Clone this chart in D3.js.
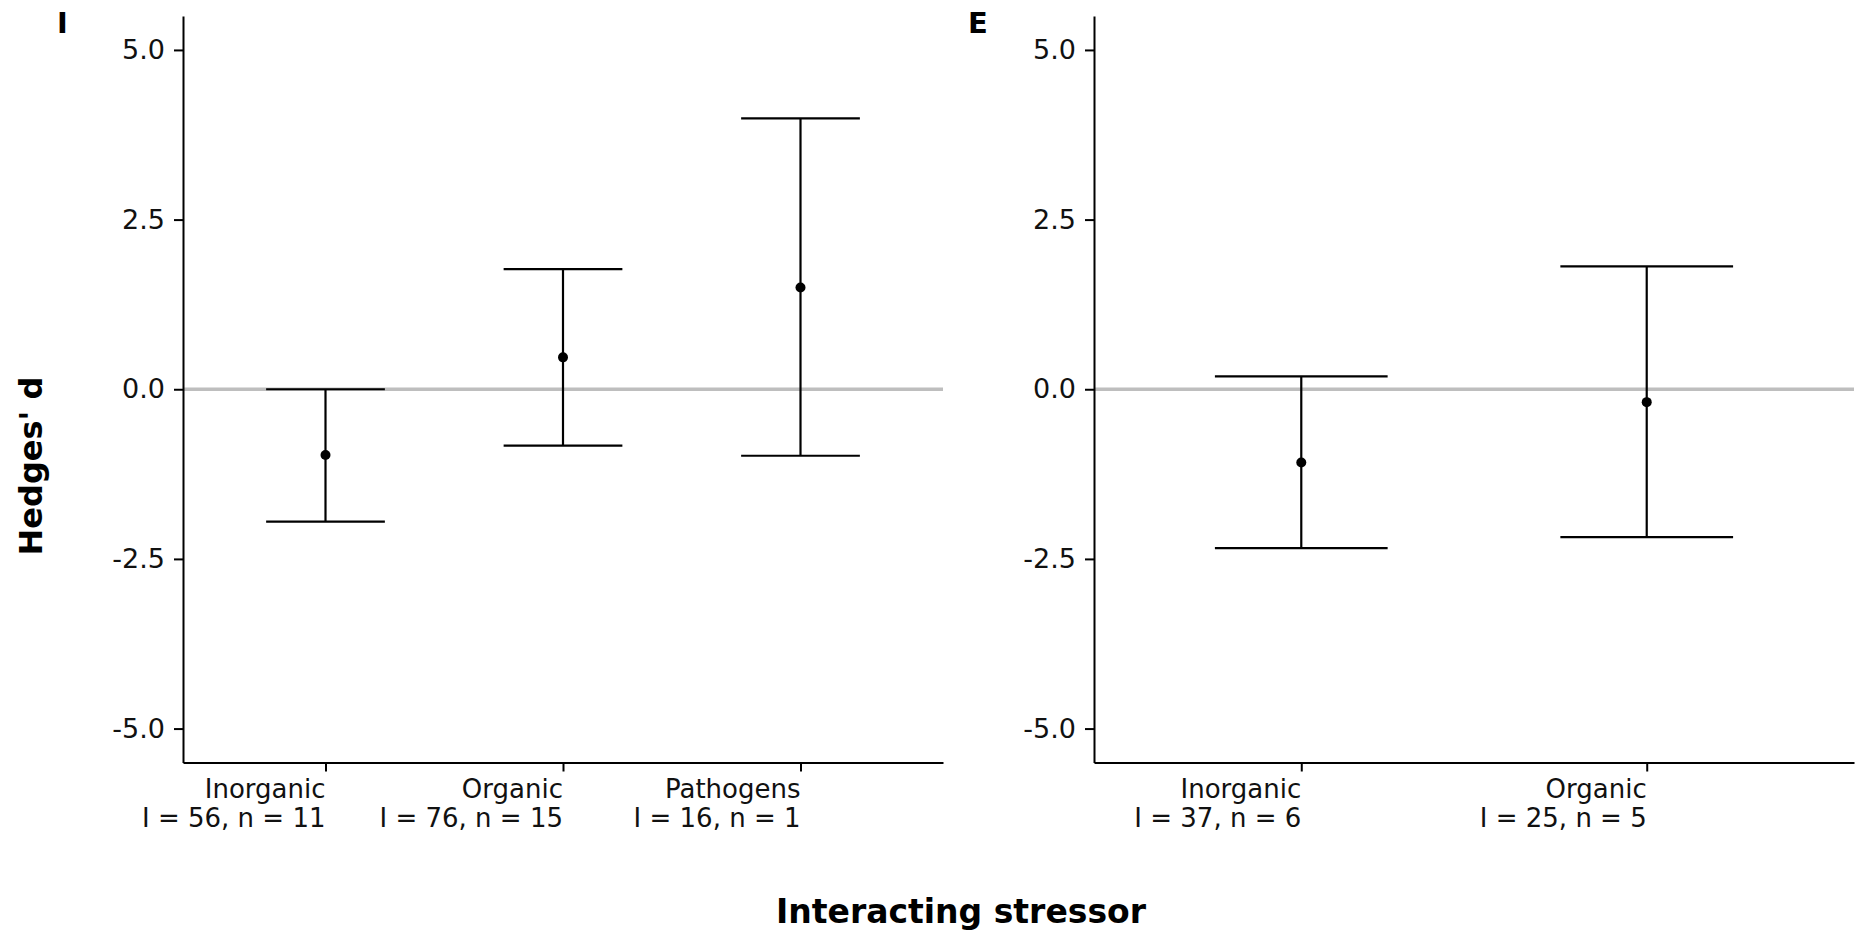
<!DOCTYPE html>
<html>
<head>
<meta charset="utf-8">
<script src="https://cdn.jsdelivr.net/npm/d3@7"></script>
<style>
  body { margin: 0; background: #fff; }
  svg { display: block; font-family: "DejaVu Sans", sans-serif; }
</style>
</head>
<body>
<svg id="chart" width="1856" height="931"></svg>
<script>
// Panel I (left)
const catsI = ["Inorganic", "Organic", "Pathogens"];
const countsI = ["I = 56, n = 11", "I = 76, n = 15", "I = 16, n = 1"];
const estI = [-0.97, 0.47, 1.50];
const lowI = [-1.95, -0.83, -0.98];
const highI = [0.00, 1.77, 3.99];

// Panel E (right)
const catsE = ["Inorganic", "Organic"];
const countsE = ["I = 37, n = 6", "I = 25, n = 5"];
const estE = [-1.08, -0.19];
const lowE = [-2.34, -2.18];
const highE = [0.19, 1.81];

const yTicks = [-5, -2.5, 0, 2.5, 5];

const svg = d3.select("#chart");
const plotTop = 16, plotBottom = 762.5, panelW = 760;

const y = d3.scaleLinear().domain([-5.5, 5.5]).range([plotBottom, plotTop]);

const drawPanel = (tag, left, cats, counts, est, low, high) => {
    const n = cats.length;
    const x = d3.scaleLinear().domain([0.4, n + 0.6]).range([left, left + panelW]);
    const g = svg.append("g");

    // zero reference line
    g.append("line")
        .attr("x1", left).attr("x2", left + panelW)
        .attr("y1", y(0)).attr("y2", y(0))
        .attr("stroke", "#bebebe").attr("stroke-width", 3.5);

    // y axis
    const ya = g.append("g")
        .attr("transform", `translate(${left},0)`)
        .call(d3.axisLeft(y).tickValues(yTicks).tickFormat(d => d.toFixed(1))
            .tickSize(9).tickSizeOuter(0).tickPadding(9));
    ya.select(".domain").attr("stroke", "#000").attr("stroke-width", 2);
    ya.selectAll(".tick line").attr("stroke", "#000").attr("stroke-width", 2);
    ya.selectAll(".tick text").attr("font-size", 27).attr("fill", "#111")
        .attr("font-family", "DejaVu Sans");

    // x axis
    const xa = g.append("g")
        .attr("transform", `translate(0,${plotBottom})`)
        .call(d3.axisBottom(x).tickValues(d3.range(1, n + 1)).tickFormat("")
            .tickSize(9).tickSizeOuter(0));
    xa.select(".domain").attr("stroke", "#000").attr("stroke-width", 2);
    xa.selectAll(".tick line").attr("stroke", "#000").attr("stroke-width", 2);

    // two-line category labels, right aligned on tick
    const lab = g.selectAll(".xlab").data(cats).enter().append("text")
        .attr("class", "xlab")
        .attr("text-anchor", "end")
        .attr("font-size", 26)
        .attr("fill", "#111");
    lab.append("tspan").attr("x", (d, i) => x(i + 1)).attr("y", 798).text(d => d);
    lab.append("tspan").attr("x", (d, i) => x(i + 1)).attr("y", 827).text((d, i) => counts[i]);

    // error bars
    const capW = 0.25;
    const bars = g.selectAll(".bar").data(cats).enter().append("g").attr("class", "bar");
    bars.append("line")
        .attr("x1", (d, i) => x(i + 1)).attr("x2", (d, i) => x(i + 1))
        .attr("y1", (d, i) => y(low[i])).attr("y2", (d, i) => y(high[i]))
        .attr("stroke", "#000").attr("stroke-width", 2.2);
    bars.append("line")
        .attr("x1", (d, i) => x(i + 1 - capW)).attr("x2", (d, i) => x(i + 1 + capW))
        .attr("y1", (d, i) => y(high[i])).attr("y2", (d, i) => y(high[i]))
        .attr("stroke", "#000").attr("stroke-width", 2.2);
    bars.append("line")
        .attr("x1", (d, i) => x(i + 1 - capW)).attr("x2", (d, i) => x(i + 1 + capW))
        .attr("y1", (d, i) => y(low[i])).attr("y2", (d, i) => y(low[i]))
        .attr("stroke", "#000").attr("stroke-width", 2.2);
    bars.append("circle")
        .attr("cx", (d, i) => x(i + 1)).attr("cy", (d, i) => y(est[i]))
        .attr("r", 5).attr("fill", "#000");

    // panel tag
    svg.append("text")
        .attr("x", left - 126).attr("y", 33)
        .attr("font-size", 29).attr("font-weight", "bold")
        .text(tag);
}

drawPanel("I", 183, catsI, countsI, estI, lowI, highI);
drawPanel("E", 1094, catsE, countsE, estE, lowE, highE);

// axis titles
svg.append("text")
    .attr("transform", "translate(42,466) rotate(-90)")
    .attr("text-anchor", "middle")
    .attr("font-size", 32).attr("font-weight", "bold")
    .text("Hedges' d");

svg.append("text")
    .attr("x", 961).attr("y", 923)
    .attr("text-anchor", "middle")
    .attr("font-size", 33).attr("font-weight", "bold")
    .text("Interacting stressor");
</script>
</body>
</html>
